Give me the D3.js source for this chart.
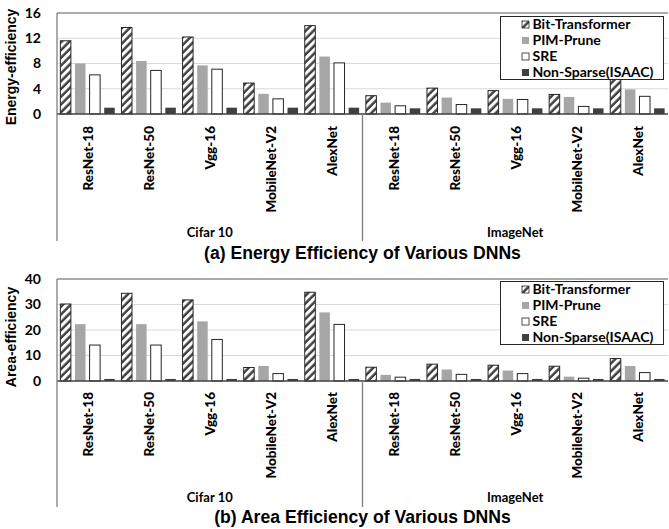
<!DOCTYPE html>
<html>
<head>
<meta charset="utf-8">
<script src="https://cdn.jsdelivr.net/npm/d3@7"></script>
<style>
  body { margin: 0; background: #fff; }
  svg { display: block; }
</style>
</head>
<body>
<div id="canvas"></div>
<script>
/* DATA */
const models = ["ResNet-18", "ResNet-50", "Vgg-16", "MobileNet-V2", "AlexNet"];
const datasets = ["Cifar 10", "ImageNet"];
const seriesNames = ["Bit-Transformer", "PIM-Prune", "SRE", "Non-Sparse(ISAAC)"];

// energy efficiency, Cifar 10 first then ImageNet
const energyBitT  = [11.6, 13.7, 12.2, 4.9, 14.0, 2.9, 4.1, 3.7, 3.1, 6.0];
const energyPrune = [8.0, 8.4, 7.7, 3.2, 9.1, 1.8, 2.6, 2.4, 2.7, 3.9];
const energySRE   = [6.2, 6.9, 7.1, 2.4, 8.1, 1.3, 1.5, 2.3, 1.2, 2.8];
const energyIsaac = [1, 1, 1, 1, 1, 0.9, 0.9, 0.9, 0.9, 0.9];
const energyTicks = [0, 4, 8, 12, 16];

// area efficiency
const areaBitT  = [30.2, 34.4, 31.8, 5.3, 34.8, 5.4, 6.6, 6.2, 5.8, 8.8];
const areaPrune = [22.3, 22.3, 23.4, 5.9, 26.9, 2.4, 4.5, 4.1, 1.7, 5.9];
const areaSRE   = [14.1, 14.1, 16.3, 2.9, 22.2, 1.5, 2.6, 2.9, 1.1, 3.3];
const areaIsaac = [0.8, 0.8, 0.8, 0.8, 0.8, 0.8, 0.8, 0.8, 0.8, 0.8];
const areaTicks = [0, 10, 20, 30, 40];

/* CANVAS */
const width = 669;
const height = 529;

const svg = d3.select("#canvas")
    .append("svg")
    .attr("width", width)
    .attr("height", height);

/* HATCH PATTERN */
svg.append("defs").append("pattern")
    .attr("id", "hatch")
    .attr("patternUnits", "userSpaceOnUse")
    .attr("width", 5.5)
    .attr("height", 5.5)
    .attr("patternTransform", "rotate(45)")
    .call(p => {
        p.append("rect").attr("width", 5.5).attr("height", 5.5).attr("fill", "#fff");
        p.append("line")
            .attr("x1", 1.5).attr("y1", 0).attr("x2", 1.5).attr("y2", 5.5)
            .attr("stroke", "#404040").attr("stroke-width", 2.5);
    });

const fills = ["url(#hatch)", "#a6a6a6", "#ffffff", "#404040"];
const strokes = ["#262626", "none", "#262626", "none"];

const left = 57;
const right = 668;
const keys = d3.range(models.length * datasets.length);

const x0 = d3.scaleBand().domain(keys).range([left, right]).padding(0);
const x1 = d3.scaleBand().domain(d3.range(seriesNames.length))
    .range([0, x0.bandwidth()])
    .paddingInner(0.28)
    .paddingOuter(0.23);

/* DRAW ONE PANEL */
function drawPanel(cfg) {
    const g = svg.append("g");
    const y = d3.scaleLinear()
        .domain([0, cfg.ticks[cfg.ticks.length - 1]])
        .range([cfg.y0, cfg.yTop]);

    // gridlines
    g.selectAll(".grid")
        .data(cfg.ticks.slice(1, -1))
        .join("line")
        .attr("x1", left).attr("x2", right)
        .attr("y1", d => y(d)).attr("y2", d => y(d))
        .attr("stroke", "#d9d9d9").attr("stroke-width", 1);

    // top border
    g.append("line")
        .attr("x1", left).attr("x2", right)
        .attr("y1", cfg.yTop).attr("y2", cfg.yTop)
        .attr("stroke", "#595959").attr("stroke-width", 1);

    // bars
    cfg.series.forEach((vals, s) => {
        g.selectAll(null)
            .data(vals)
            .join("rect")
            .attr("x", (d, i) => x0(i) + x1(s))
            .attr("y", d => y(d))
            .attr("width", x1.bandwidth())
            .attr("height", d => cfg.y0 - y(d))
            .attr("fill", fills[s])
            .attr("stroke", strokes[s])
            .attr("stroke-width", 1);
    });

    // y axis labels
    g.selectAll(".tick")
        .data(cfg.ticks)
        .join("text")
        .attr("x", 41)
        .attr("y", d => y(d))
        .attr("dy", "0.35em")
        .attr("text-anchor", "end")
        .attr("font-family", "Lato, sans-serif")
        .attr("font-weight", "bold")
        .attr("font-size", 14)
        .attr("fill", "#000")
        .text(d => d);

    g.append("text")
        .attr("transform", `translate(16,${cfg.titleY}) rotate(-90)`)
        .attr("text-anchor", "middle")
        .attr("font-family", "Liberation Sans, Arial, sans-serif")
        .attr("font-weight", "bold")
        .attr("font-size", 14)
        .text(cfg.yTitle);

    // baseline and vertical lines
    g.append("line")
        .attr("x1", left).attr("x2", right)
        .attr("y1", cfg.y0).attr("y2", cfg.y0)
        .attr("stroke", "#404040").attr("stroke-width", 1.3);

    const xMid = x0(models.length);
    [left, xMid].forEach((xx, i) => {
        g.append("line")
            .attr("x1", xx).attr("x2", xx)
            .attr("y1", i === 0 ? cfg.yTop : cfg.y0).attr("y2", cfg.lineEnd)
            .attr("stroke", "#7f7f7f").attr("stroke-width", 1.3);
    });

    // category labels
    g.selectAll(".cat")
        .data(keys)
        .join("text")
        .attr("transform", d => `translate(${x0(d) + x0.bandwidth() / 2 + 5.5},${cfg.catTop}) rotate(-90)`)
        .attr("text-anchor", "end")
        .attr("font-family", "Lato, sans-serif")
        .attr("font-weight", "900")
        .attr("font-size", 13.5)
        .text(d => models[d % models.length]);

    // dataset labels
    datasets.forEach((name, i) => {
        const a = i === 0 ? left : xMid;
        const b = i === 0 ? xMid : right;
        g.append("text")
            .attr("x", (a + b) / 2)
            .attr("y", cfg.dsY)
            .attr("text-anchor", "middle")
            .attr("font-family", "Lato, sans-serif")
            .attr("font-weight", "bold")
            .attr("font-size", 13)
            .text(name);
    });

    // caption
    g.append("text")
        .attr("x", (left + right) / 2)
        .attr("y", cfg.capY)
        .attr("text-anchor", "middle")
        .attr("font-family", "Liberation Sans Narrow, Arial Narrow, Liberation Sans, sans-serif")
        .attr("font-weight", "bold")
        .attr("font-size", 17.6)
        .text(cfg.caption);

    // legend
    const lg = g.append("g").attr("transform", `translate(${cfg.legX},${cfg.legY})`);
    lg.append("rect")
        .attr("width", 163).attr("height", 63)
        .attr("fill", "#fff").attr("stroke", "#262626").attr("stroke-width", 1);
    seriesNames.forEach((name, s) => {
        const row = lg.append("g").attr("transform", `translate(0,${8 + s * 16})`);
        row.append("rect")
            .attr("x", 21.5).attr("y", -3.5)
            .attr("width", 7).attr("height", 7)
            .attr("fill", s === 0 ? "url(#hatch)" : fills[s])
            .attr("stroke", strokes[s]).attr("stroke-width", 0.8);
        row.append("text")
            .attr("x", 32)
            .attr("y", 0)
            .attr("dy", "0.35em")
            .attr("font-family", "Lato, sans-serif")
            .attr("font-weight", "bold")
            .attr("font-size", 14)
            .text(name);
    });
}

drawPanel({
    series: [energyBitT, energyPrune, energySRE, energyIsaac],
    ticks: energyTicks,
    yTop: 13, y0: 114,
    yTitle: "Energy-efficiency", titleY: 67,
    catTop: 126, lineEnd: 241, dsY: 237,
    caption: "(a) Energy Efficiency of Various DNNs", capY: 259,
    legX: 500.5, legY: 16.5
});

drawPanel({
    series: [areaBitT, areaPrune, areaSRE, areaIsaac],
    ticks: areaTicks,
    yTop: 279, y0: 381,
    yTitle: "Area-efficiency", titleY: 337,
    catTop: 392, lineEnd: 507, dsY: 502,
    caption: "(b) Area Efficiency of Various DNNs", capY: 523,
    legX: 500.5, legY: 281.5
});
</script>
</body>
</html>
